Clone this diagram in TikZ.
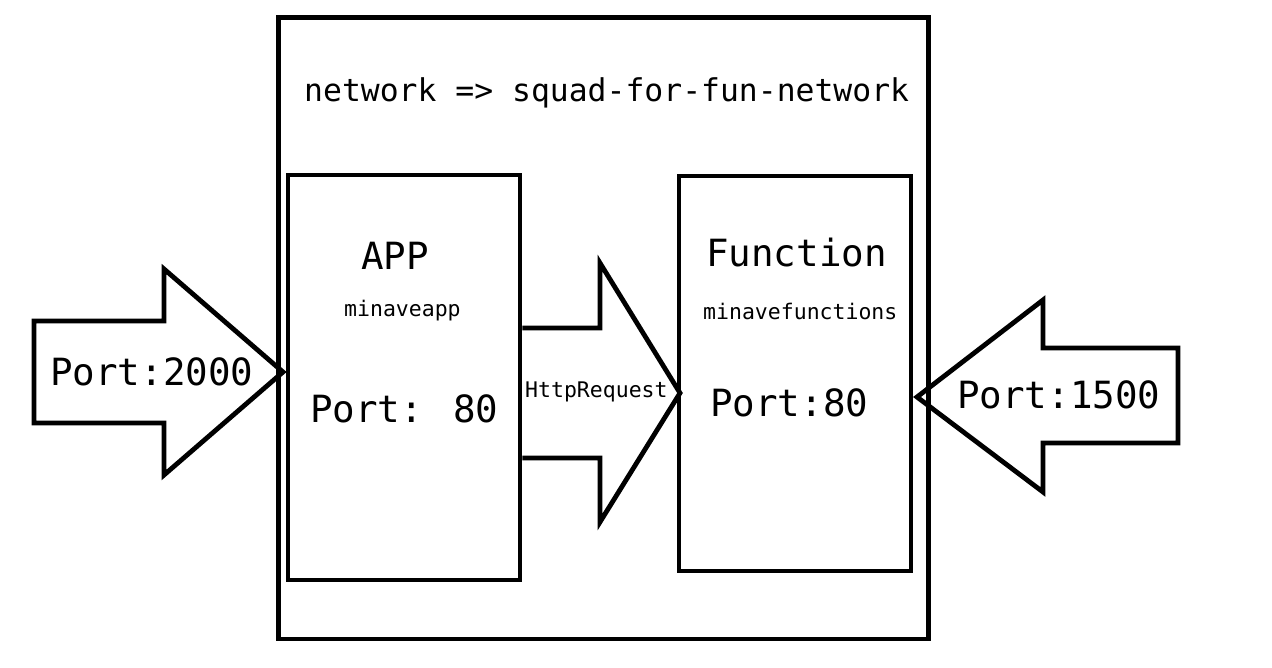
\documentclass[tikz,border=0pt]{standalone}
\usepackage{fontspec}
\newfontfamily\monofont{DejaVu Sans Mono}
\tikzset{
  box/.style={draw=black, line width=4.8pt, minimum width=#1, inner sep=0pt},
  shapeline/.style={draw=black, line width=4.8pt, line join=miter},
  bigtxt/.style={anchor=base west, inner sep=0pt, font=\monofont\fontsize{37.5}{40}\selectfont},
  smalltxt/.style={anchor=base west, inner sep=0pt, font=\monofont\fontsize{21.5}{24}\selectfont},
  titletxt/.style={anchor=base west, inner sep=0pt, font=\monofont\fontsize{31.4}{34}\selectfont}
}
\begin{document}
\begin{tikzpicture}[x=1pt,y=-1pt]
\useasboundingbox[fill=white] (0,0) rectangle (1272,667);
% outer network box
\node[box=650pt, minimum height=621.5pt] (net) at (603.5,328.25) {};
% app box
\node[box=232pt, minimum height=405pt] (app) at (404,377.5) {};
% function box
\node[box=232pt, minimum height=395pt] (fun) at (795,373.5) {};

% left arrow
\coordinate (la1) at (34,321);
\coordinate (la2) at (164,321);
\coordinate (la3) at (164,269);
\coordinate (latip) at (283,372);
\coordinate (la5) at (164,475);
\coordinate (la6) at (164,423);
\coordinate (la7) at (34,423);
\draw[shapeline] (la1) -- (la2) -- (la3) -- (latip) -- (la5) -- (la6) -- (la7) -- cycle;

% middle arrow
\coordinate (ma1) at (app.east |- 0,328);
\coordinate (ma2) at (600,328);
\coordinate (ma3) at (600,263);
\coordinate (matip) at (680,393);
\coordinate (ma5) at (600,522);
\coordinate (ma6) at (600,458);
\coordinate (ma7) at (app.east |- 0,458);
\draw[shapeline] (ma1) -- (ma2) -- (ma3) -- (matip) -- (ma5) -- (ma6) -- (ma7);

% right arrow
\coordinate (ratip) at (917,397);
\coordinate (ra2) at (1043,300);
\coordinate (ra3) at (1043,348);
\coordinate (ra4) at (1178,348);
\coordinate (ra5) at (1178,443);
\coordinate (ra6) at (1043,443);
\coordinate (ra7) at (1043,492);
\draw[shapeline] (ratip) -- (ra2) -- (ra3) -- (ra4) -- (ra5) -- (ra6) -- (ra7) -- cycle;

% texts
\node[titletxt] (title) at (304,101) {network => squad-for-fun-network};
\node[bigtxt] (apptitle) at (361,269) {APP};
\node[smalltxt] (appname) at (344,316) {minaveapp};
\node[bigtxt] (appport) at (310,422) {Port: 80};
\node[bigtxt] (funtitle) at (706,266) {Function};
\node[smalltxt] (funname) at (703,319) {minavefunctions};
\node[bigtxt] (funport) at (710,416) {Port:80};
\node[bigtxt] (port2000) at (50,385) {Port:2000};
\node[bigtxt] (port1500) at (957,408) {Port:1500};
\node[smalltxt] (http) at (525,397) {HttpRequest};
\end{tikzpicture}
\end{document}
